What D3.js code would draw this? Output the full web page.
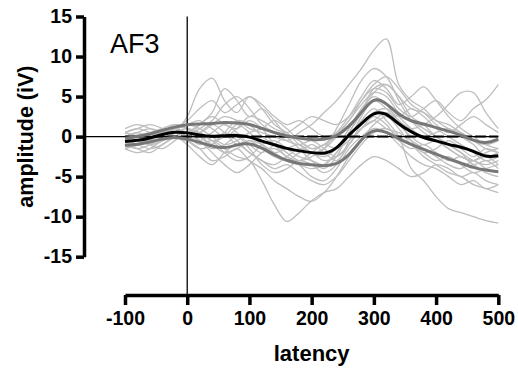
<!DOCTYPE html>
<html>
<head>
<meta charset="utf-8">
<script src="https://cdn.jsdelivr.net/npm/d3@7"></script>
<style>
  html, body { margin: 0; padding: 0; background: #fff; }
  svg { display: block; font-family: "Liberation Sans", Arial, sans-serif; }
</style>
</head>
<body>
<svg id="chart" width="518" height="370"></svg>
<script>
// latency samples (ms), one every 20 ms
const latency = [-100, -80, -60, -40, -20, 0, 20, 40, 60, 80, 100, 120, 140, 160, 180, 200,
  220, 240, 260, 280, 300, 320, 340, 360, 380, 400, 420, 440, 460, 480, 500]

const xTicks = [-100, 0, 100, 200, 300, 400, 500]
const yTicks = [-15, -10, -5, 0, 5, 10, 15]

// grand average and its upper / lower bounds
const meanWave = [-0.6, -0.5, -0.2, 0.3, 0.6, 0.5, 0.2, 0.0, 0.1, 0.2, 0.0, -0.6, -1.0, -1.5, -1.8, -2.0,
  -2.2, -1.6, 0.3, 1.6, 3.1, 3.0, 1.5, 0.6, -0.2, -0.5, -1.0, -1.3, -1.8, -2.6, -2.4]
const upperWave = [-0.2, 0.0, 0.3, 0.8, 1.2, 1.5, 1.6, 1.6, 1.8, 1.7, 1.6, 1.0, 0.5, 0.1, -0.2, -0.4,
  -0.4, 0.0, 1.2, 3.0, 5.0, 4.2, 2.7, 1.9, 1.6, 1.1, 0.7, 0.2, -0.5, -0.9, -0.3]
const lowerWave = [-1.1, -1.0, -0.7, -0.3, 0.0, -0.3, -0.7, -1.2, -1.5, -1.0, -0.8, -1.4, -2.3, -3.0, -3.4, -3.5,
  -3.7, -3.5, -2.4, -0.3, 1.0, 0.6, -0.3, -1.0, -1.6, -2.2, -2.8, -3.3, -3.9, -4.2, -4.4]

// single subject waveforms
const subjects = [
  [-0.3, 0.2, 0.5, 0.8, 1.2, 1.0, 0.5, 1.5, 2.5, 2.0, 1.0, 0.5, 0.0, -0.5, 0.5, 1.5, 3.0, 4.5, 6.5, 8.5, 10.8, 12.2, 6.5, 4.5, 3.5, 2.0, 1.0, 0.5, -0.5, -1.0, -0.5],
  [0.5, 1.0, 0.5, -0.5, 0.5, 2.5, 6.0, 7.3, 4.5, 3.0, 5.0, 3.5, 1.5, 0.5, -1.0, -2.0, -1.5, 0.0, 2.0, 4.0, 5.5, 5.0, 3.0, 2.0, 1.0, 0.0, -1.0, -2.0, -3.0, -3.5, -3.0],
  [-1.0, -0.5, 0.0, 0.5, 1.0, 0.0, 1.5, 3.0, 6.0, 4.5, 2.5, 3.5, 2.0, 0.0, -1.5, -3.0, -4.0, -2.5, 0.5, 3.0, 6.0, 6.5, 5.0, 3.5, 3.0, 2.0, 1.5, 0.5, -0.5, -1.5, -2.0],
  [-1.0, -1.5, -1.0, 0.0, 0.5, 0.0, -1.0, -0.5, -1.5, -2.5, -3.0, -5.5, -8.5, -10.6, -9.5, -8.0, -7.0, -6.5, -5.0, -3.5, -2.5, -3.0, -4.0, -5.0, -4.5, -3.5, -4.0, -5.0, -4.5, -5.5, -6.0],
  [-0.5, -1.0, -1.5, -1.0, 0.0, 0.5, 0.0, -1.0, -2.0, -1.5, -0.5, -1.0, -2.0, -3.0, -3.5, -4.0, -3.5, -2.0, 0.0, 2.0, 3.5, 2.0, 0.0, -4.0, -5.5, -7.5, -9.0, -9.5, -10.0, -10.5, -10.8],
  [0.5, 0.0, -0.5, 0.0, 1.0, 1.5, 2.0, 1.0, 0.0, 1.0, 2.5, 2.0, 1.0, 0.5, 1.5, 2.5, 2.0, 1.5, 2.5, 4.5, 6.0, 5.5, 3.5, 2.5, 3.5, 4.5, 3.0, 2.0, 3.5, 4.6, 6.5],
  [0.0, 0.5, 1.0, 0.5, 0.0, -0.5, -1.5, -3.0, -2.5, -1.5, -3.0, -4.0, -5.5, -6.5, -7.5, -8.1, -7.0, -5.0, -2.5, -0.5, 1.5, 2.5, 1.0, -1.0, -2.0, -3.0, -2.5, -3.5, -4.5, -4.0, -3.5],
  [-1.5, -1.0, -0.5, 0.5, 1.0, 0.5, -0.5, 0.5, 1.5, 0.5, -1.0, -2.0, -1.0, 0.0, -0.5, -1.5, -1.0, 0.5, 2.5, 5.0, 7.0, 6.0, 4.0, 5.0, 6.2, 4.5, 2.5, 1.0, 0.0, -1.0, -1.5],
  [0.0, -0.5, -1.0, -0.5, 0.5, 1.0, 0.5, -0.5, 0.0, 1.5, 0.5, -1.0, -2.0, -1.5, -1.0, -2.0, -2.5, -1.5, 1.0, 3.5, 5.0, 4.0, 2.0, 1.0, 1.5, 2.5, 4.0, 5.5, 5.5, 3.0, 1.0],
  [-0.5, 0.0, 0.5, 1.0, 1.5, 1.0, 0.0, -1.0, 0.5, 2.0, 1.5, 0.0, -1.0, -2.0, -3.0, -2.5, -1.5, 1.0, 4.0, 7.0, 8.5, 7.5, 4.5, 2.0, 0.5, -0.5, -1.5, -2.5, -3.0, -2.5, -3.5],
  [-1.5, -2.0, -1.5, -0.5, 0.0, -1.0, -2.5, -3.5, -2.0, -1.0, -2.0, -3.0, -4.0, -3.5, -4.5, -5.5, -6.0, -5.0, -3.0, -1.0, 0.5, 1.0, 0.0, -1.0, -2.5, -3.5, -4.5, -5.0, -6.0, -6.5, -7.0],
  [1.0, 1.5, 1.0, 0.5, 1.0, 2.0, 3.5, 4.5, 3.0, 4.0, 5.0, 4.0, 2.5, 1.5, 2.0, 1.0, 0.0, 0.5, 2.0, 4.5, 6.5, 7.5, 6.0, 4.0, 3.0, 1.5, 0.5, 1.5, 2.5, 1.5, 0.5],
  [-0.5, -1.0, -0.5, 0.5, 1.5, 1.0, -0.5, -2.0, -3.5, -4.5, -3.5, -2.0, -1.5, -2.5, -3.5, -5.0, -5.5, -4.0, -1.5, 0.0, 1.0, 0.5, -1.0, -2.5, -3.5, -4.0, -5.0, -6.0, -5.5, -6.5, -6.0],
  [0.0, 0.5, 0.0, 0.5, 0.0, -0.5, 0.5, 1.5, 0.5, -1.0, -0.5, -1.5, -2.5, -3.0, -2.0, -1.0, -2.0, -3.0, -1.0, 1.5, 3.0, 3.5, 2.5, 3.5, 2.5, 1.0, 0.0, -1.0, -2.0, -3.0, -2.5],
  [-1.5, -1.0, 0.0, 1.0, 0.5, 0.0, 1.0, 2.0, 4.0, 5.0, 3.5, 1.5, 0.5, -0.5, -1.0, -0.5, -1.5, -2.5, -1.0, 1.0, 2.5, 1.5, -0.5, -1.5, -1.0, -2.0, -3.0, -2.5, -3.5, -4.5, -5.0],
  [0.5, 0.0, -1.0, -1.5, -0.5, 0.5, -0.5, -1.5, -1.0, 0.0, -1.5, -3.5, -4.5, -4.0, -3.0, -3.5, -4.5, -3.5, -0.5, 2.5, 4.5, 3.5, 1.5, 0.0, -1.0, -0.5, -1.5, -2.5, -3.0, -2.0, -1.5],
  [-1.0, -0.5, -0.5, 0.0, 1.0, 1.5, 1.0, 0.0, -1.0, -0.5, 0.5, 1.0, 2.0, 1.0, -0.5, -1.5, -1.0, 0.0, 1.5, 3.0, 4.5, 4.0, 2.5, 1.0, 0.0, 0.5, 1.0, 0.0, -1.0, -2.5, -2.0],
  [-0.5, -1.5, -2.0, -1.0, 0.0, 0.5, 0.5, -0.5, -2.0, -3.0, -2.5, -1.0, -0.5, -1.5, -2.5, -3.0, -3.5, -2.0, 0.5, 3.0, 5.5, 6.5, 5.0, 2.5, 1.5, 0.0, -1.0, -2.0, -3.5, -3.0, -4.0],
  [0.5, 1.0, 1.5, 1.0, 0.0, 0.5, 1.5, 2.5, 1.5, 1.0, 2.0, 1.0, -1.0, -2.5, -3.0, -2.0, -1.0, -1.5, -0.5, 1.0, 2.0, 3.0, 2.0, -0.5, -2.0, -1.5, -0.5, -1.5, -2.5, -1.5, -2.0],
  [-1.0, -0.5, 0.0, 0.0, 0.5, -0.5, -1.5, -1.0, 0.5, -0.5, -2.0, -3.0, -3.5, -2.5, -1.5, -2.0, -3.0, -2.5, -1.0, 1.0, 2.0, 1.0, 0.5, -0.5, -1.5, -2.5, -3.5, -4.0, -3.0, -4.0, -4.5]
]

const svg = d3.select('#chart')

const x = d3.scaleLinear().domain([-100, 500]).range([125, 498.3])
const y = d3.scaleLinear().domain([-15, 15]).range([256.7, 16.5])
const yAxisX = 84
const xAxisY = 295

const wave = (curve) => d3.line()
  .x((d, i) => x(latency[i]))
  .y(d => y(d))
  .curve(curve)

// ── individual subjects ──
svg.append('g')
  .selectAll('path')
  .data(subjects)
  .join('path')
  .attr('d', wave(d3.curveCatmullRom.alpha(0.5)))
  .attr('fill', 'none')
  .attr('stroke', '#bebebe')
  .attr('stroke-width', 1.3)

// zero reference lines
svg.append('line')
  .attr('x1', yAxisX).attr('x2', x(500))
  .attr('y1', y(0)).attr('y2', y(0))
  .attr('stroke', '#000').attr('stroke-width', 1.3)
svg.append('line')
  .attr('x1', x(-100)).attr('x2', x(500))
  .attr('y1', y(0)).attr('y2', y(0))
  .attr('stroke', '#000').attr('stroke-width', 2)
  .attr('stroke-dasharray', '11,3')
svg.append('line')
  .attr('x1', x(0)).attr('x2', x(0))
  .attr('y1', y(15)).attr('y2', xAxisY)
  .attr('stroke', '#000').attr('stroke-width', 1.3)

// ── bounds and average ──
const smooth = wave(d3.curveBasis)
svg.append('g')
  .selectAll('path')
  .data([upperWave, lowerWave])
  .join('path')
  .attr('d', smooth)
  .attr('fill', 'none')
  .attr('stroke', '#777')
  .attr('stroke-width', 3)
svg.append('path')
  .attr('d', smooth(meanWave))
  .attr('fill', 'none')
  .attr('stroke', '#000')
  .attr('stroke-width', 3)

// ── axes ──
// plain hyphen for negatives, like the original
const fmt = d => String(d)

const styleAxis = (g) => {
  g.select('.domain').attr('stroke-width', 3.5)
  g.selectAll('.tick line').attr('stroke-width', 3.5)
  g.selectAll('.tick text')
    .attr('font-size', '19.5px')
    .attr('font-weight', 'bold')
    .attr('font-family', '"Liberation Sans", Arial, sans-serif')
    .attr('fill', '#000')
}

svg.append('g')
  .attr('transform', `translate(${yAxisX},0)`)
  .call(d3.axisLeft(y).tickValues(yTicks).tickFormat(fmt).tickSize(8).tickSizeOuter(0).tickPadding(4))
  .call(styleAxis)

svg.append('g')
  .attr('transform', `translate(0,${xAxisY})`)
  .call(d3.axisBottom(x).tickValues(xTicks).tickFormat(fmt).tickSize(10).tickSizeOuter(0).tickPadding(6))
  .call(styleAxis)

// ── labels ──
svg.append('text')
  .attr('x', 110).attr('y', 53)
  .attr('font-size', '27px')
  .text('AF3')

svg.append('text')
  .attr('x', x(200)).attr('y', 361)
  .attr('text-anchor', 'middle')
  .attr('font-size', '22px')
  .attr('font-weight', 'bold')
  .text('latency')

svg.append('text')
  .attr('transform', `translate(33,${y(0)}) rotate(-90)`)
  .attr('text-anchor', 'middle')
  .attr('font-size', '21.5px')
  .attr('font-weight', 'bold')
  .text('amplitude (iV)')
</script>
</body>
</html>
